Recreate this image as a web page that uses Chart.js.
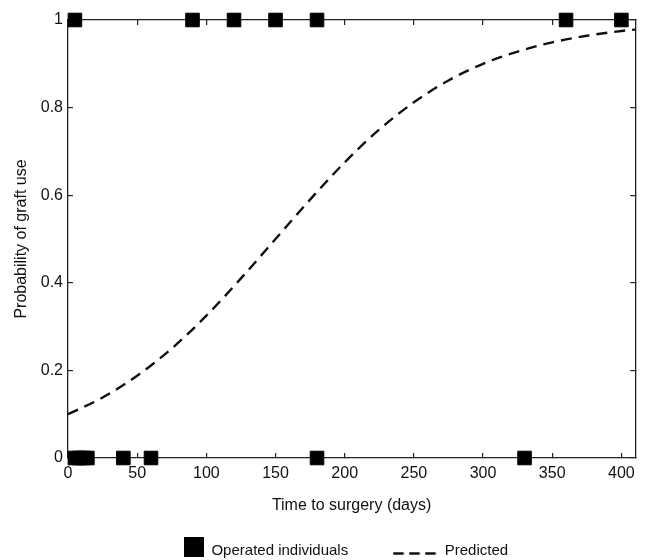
<!DOCTYPE html>
<html>
<head>
<meta charset="utf-8">
<script src="https://cdn.jsdelivr.net/npm/chart.js@4/dist/chart.umd.min.js"></script>
<style>
  html, body { margin: 0; padding: 0; background: #fff; }
  #wrap { width: 646px; height: 560px; }
</style>
</head>
<body>
<div id="wrap"><canvas id="c" width="646" height="560"></canvas></div>
<script>
// ---- data ----
const OPERATED_X = [5, 90, 120, 150, 180, 360, 400, 5, 8, 11, 14, 40, 60, 180, 330];
const OPERATED_Y = [1, 1, 1, 1, 1, 1, 1, 0, 0, 0, 0, 0, 0, 0, 0];
const PREDICTED_X = [0, 25, 50, 75, 100, 125, 150, 175, 200, 225, 250, 275, 300, 325, 350, 375, 400, 410];
const PREDICTED_Y = [0.10, 0.138, 0.188, 0.25, 0.325, 0.41, 0.50, 0.59, 0.675, 0.75, 0.812, 0.862, 0.90, 0.928, 0.949, 0.964, 0.975, 0.978];
const X_TICKS = [0, 50, 100, 150, 200, 250, 300, 350, 400];
const X_TICK_LABELS = ['0', '50', '100', '150', '200', '250', '300', '350', '400'];
const Y_TICKS = [0, 0.2, 0.4, 0.6, 0.8, 1];
const Y_TICK_LABELS = ['0', '0.2', '0.4', '0.6', '0.8', '1'];
const X_TITLE = 'Time to surgery (days)';
const Y_TITLE = 'Probability of graft use';
const LEGEND_LABELS = ['Operated individuals', 'Predicted'];

const FONT = '"Liberation Sans", Arial, Helvetica, sans-serif';
const INK = '#111';
const AXIS = '#222';

// legend icons
function makeSquareIcon() {
  const cv = document.createElement('canvas');
  cv.width = 76; cv.height = 28;
  const g = cv.getContext('2d');
  g.fillStyle = '#000';
  g.fillRect(56, 0, 20, 20);
  return cv;
}
function makeDashIcon() {
  const cv = document.createElement('canvas');
  cv.width = 76; cv.height = 28;
  const g = cv.getContext('2d');
  g.strokeStyle = '#111';
  g.lineWidth = 2.5;
  g.setLineDash([10.5, 5.5]);
  g.beginPath();
  g.moveTo(32, 16.5);
  g.lineTo(76, 16.5);
  g.stroke();
  return cv;
}
const squareIcon = makeSquareIcon();
const dashIcon = makeDashIcon();

const xy = (xs, ys) => xs.map((x, i) => ({ x: x, y: ys[i] }));
const setTicks = (vals) => (scale) => { scale.ticks = vals.map(v => ({ value: v })); };
const labelFrom = (vals, labels) => (value) => {
  const i = vals.findIndex(v => Math.abs(v - value) < 1e-9);
  return i >= 0 ? labels[i] : '';
};

const baseGrid = { drawOnChartArea: false, drawTicks: true, tickLength: -5, color: AXIS, lineWidth: 1.2 };
const baseBorder = { display: true, color: AXIS, width: 1.3 };

new Chart(document.getElementById('c'), {
  data: {
    datasets: [
      {
        type: 'scatter',
        label: LEGEND_LABELS[0],
        data: xy(OPERATED_X, OPERATED_Y),
        pointStyle: 'rect',
        pointRadius: 9.6,
        pointBorderWidth: 1,
        backgroundColor: '#000',
        borderColor: '#000',
        clip: false
      },
      {
        type: 'line',
        label: LEGEND_LABELS[1],
        data: xy(PREDICTED_X, PREDICTED_Y),
        borderColor: '#111',
        borderWidth: 2.4,
        borderDash: [11, 7],
        pointRadius: 0,
        fill: false,
        cubicInterpolationMode: 'monotone'
      }
    ]
  },
  options: {
    responsive: false,
    animation: false,
    devicePixelRatio: 1,
    layout: { padding: { top: 20, right: 10, left: 0, bottom: -8.5 } },
    plugins: {
      tooltip: { enabled: false },
      legend: {
        position: 'bottom',
        labels: {
          usePointStyle: true,
          pointStyleWidth: 76,
          padding: 13,
          color: INK,
          font: { family: FONT, size: 15 },
          generateLabels: () => [
            { text: LEGEND_LABELS[0], pointStyle: squareIcon, fillStyle: '#000', strokeStyle: '#000', lineWidth: 0, datasetIndex: 0, fontColor: INK },
            { text: LEGEND_LABELS[1], pointStyle: dashIcon, fillStyle: '#111', strokeStyle: '#111', lineWidth: 0, datasetIndex: 1, fontColor: INK }
          ]
        }
      }
    },
    scales: {
      x: {
        type: 'linear',
        position: 'bottom',
        min: 0, max: 410,
        afterBuildTicks: setTicks(X_TICKS),
        afterFit: (s) => { s.height = 72.5; },
        grid: baseGrid,
        border: baseBorder,
        ticks: { color: INK, font: { family: FONT, size: 16 }, padding: 11, maxRotation: 0, callback: labelFrom(X_TICKS, X_TICK_LABELS) },
        title: { display: true, text: X_TITLE, color: INK, font: { family: FONT, size: 16 }, padding: 15 }
      },
      y: {
        type: 'linear',
        position: 'left',
        min: 0, max: 1,
        afterBuildTicks: setTicks(Y_TICKS),
        afterFit: (s) => { s.width = 68; },
        grid: baseGrid,
        border: baseBorder,
        ticks: { color: INK, font: { family: FONT, size: 16 }, padding: 10, callback: labelFrom(Y_TICKS, Y_TICK_LABELS) },
        title: { display: true, text: Y_TITLE, color: INK, font: { family: FONT, size: 16 }, padding: 12 }
      },
      x2: {
        type: 'linear',
        position: 'top',
        min: 0, max: 410,
        afterBuildTicks: setTicks(X_TICKS),
        afterFit: (s) => { s.height = 0; },
        grid: baseGrid,
        border: baseBorder,
        ticks: { display: false }
      },
      y2: {
        type: 'linear',
        position: 'right',
        min: 0, max: 1,
        afterBuildTicks: setTicks(Y_TICKS),
        afterFit: (s) => { s.width = 0; },
        grid: baseGrid,
        border: baseBorder,
        ticks: { display: false }
      }
    }
  }
});
</script>
</body>
</html>
